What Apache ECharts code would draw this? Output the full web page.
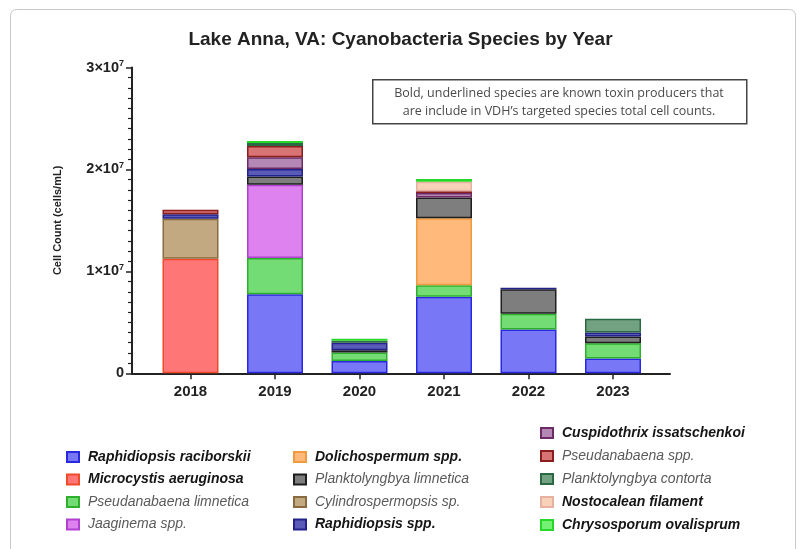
<!DOCTYPE html>
<html><head><meta charset="utf-8">
<script src="https://cdn.jsdelivr.net/npm/echarts@6/dist/echarts.min.js"></script>
<style>html,body{margin:0;padding:0;background:#fff}#c{width:801px;height:549px}</style>
</head><body><div id="c"></div>
<script>
const years = ['2018','2019','2020','2021','2022','2023'];
const yTicks = [0, 10000000, 20000000, 30000000];

const raphidiopsisRaciborskii = [0, 7750000, 1200000, 7500000, 4300000, 1450000];
const microcystisAeruginosa   = [11250000, 0, 0, 0, 0, 0];
const pseudanabaenaLimnetica  = [0, 3550000, 850000, 1150000, 1550000, 1500000];
const jaaginemaSpp            = [0, 7200000, 0, 0, 0, 0];
const dolichospermumSpp       = [0, 0, 0, 6550000, 0, 0];
const planktolyngbyaLimnetica = [0, 800000, 200000, 2050000, 2400000, 650000];
const cylindrospermopsisSp    = [3900000, 0, 0, 0, 0, 0];
const raphidiopsisSpp         = [450000, 750000, 750000, 0, 150000, 400000];
const cuspidothrixIssatschenkoi = [0, 1150000, 0, 450000, 0, 0];
const pseudanabaenaSpp        = [450000, 1100000, 0, 150000, 0, 0];
const planktolyngbyaContorta  = [0, 300000, 200000, 0, 0, 1350000];
const nostocaleanFilament     = [0, 0, 0, 950000, 0, 0];
const chrysosporumOvalisprum  = [0, 200000, 200000, 250000, 0, 0];

const speciesNames = [
  'Raphidiopsis raciborskii','Microcystis aeruginosa','Pseudanabaena limnetica','Jaaginema spp.',
  'Dolichospermum spp.','Planktolyngbya limnetica','Cylindrospermopsis sp.','Raphidiopsis spp.',
  'Cuspidothrix issatschenkoi','Pseudanabaena spp.','Planktolyngbya contorta','Nostocalean filament','Chrysosporum ovalisprum'];
const speciesValues = [raphidiopsisRaciborskii, microcystisAeruginosa, pseudanabaenaLimnetica, jaaginemaSpp,
  dolichospermumSpp, planktolyngbyaLimnetica, cylindrospermopsisSp, raphidiopsisSpp,
  cuspidothrixIssatschenkoi, pseudanabaenaSpp, planktolyngbyaContorta, nostocaleanFilament, chrysosporumOvalisprum];
const toxic = ['Raphidiopsis raciborskii','Microcystis aeruginosa','Dolichospermum spp.','Raphidiopsis spp.',
  'Cuspidothrix issatschenkoi','Nostocalean filament','Chrysosporum ovalisprum'];

const fills   = ['#7878f6','#ff7676','#74dc74','#de82f0','#ffb97a','#7e7e7e','#c2a981','#5a5ab8','#b488b4','#d87474','#72a282','#f8d2b8','#74f074'];
const borders = ['#2828e0','#f04a2a','#2eb02e','#b040d0','#f09a40','#1e1e1e','#8a6a40','#22228a','#6e2a66','#8a1e1e','#2a6a42','#e8b0a0','#28d828'];

const FONT = '"Liberation Sans", Arial, sans-serif';

const series = speciesNames.map((n, i) => ({
  name: n, type: 'bar', stack: 'total', xAxisIndex: 1, yAxisIndex: 1,
  barWidth: 56,
  itemStyle: { color: fills[i], borderColor: borders[i], borderWidth: 1.5 },
  data: speciesValues[i].map(v => v === 0 ? null : v)
}));

const legendText = {
  fontFamily: FONT, fontSize: 14,
  rich: {
    t: { fontFamily: FONT, fontSize: 14, fontWeight: 'bold', fontStyle: 'italic', color: '#151515', padding: [0,0,0,4] },
    n: { fontFamily: FONT, fontSize: 14, fontStyle: 'italic', color: '#5a5a5a', padding: [0,0,0,4] }
  }
};
function mkLegend(names, left, top, gap) {
  return {
    data: names, orient: 'vertical', left: left, top: top, itemGap: gap,
    itemWidth: 12, itemHeight: 10, selectedMode: false, icon: 'rect',
    formatter: n => toxic.includes(n) ? '{t|' + n + '}' : '{n|' + n + '}',
    textStyle: legendText
  };
}

const chart = echarts.init(document.getElementById('c'), null, { renderer: 'canvas' });
chart.setOption({
  backgroundColor: '#fff',
  animation: false,
  title: {
    text: 'Lake Anna, VA: Cyanobacteria Species by Year', left: 'center', top: 25,
    textStyle: { fontFamily: FONT, fontSize: 19, fontWeight: 'bold', color: '#222' }
  },
  legend: [
    mkLegend(speciesNames.slice(0, 4), 61, 445, 8.5),
    mkLegend(speciesNames.slice(4, 8), 288, 445, 8.5),
    mkLegend(speciesNames.slice(8, 13), 535, 421, 9)
  ],
  grid: [
    { left: 132, right: 131, top: 67.5, bottom: 175.7 },
    { left: 148.25, right: 145.75, top: 67.5, bottom: 175.7 }
  ],
  xAxis: [
    { type: 'value', gridIndex: 0, min: 0, max: 1, axisLine: { show: true, onZero: false, lineStyle: { color: '#222', width: 2 } },
      axisTick: { show: false }, axisLabel: { show: false }, splitLine: { show: false } },
    { type: 'category', gridIndex: 1, data: years, axisLine: { show: false },
      axisTick: { show: true, alignWithLabel: true, length: 6, lineStyle: { color: '#222', width: 1.5 } },
      axisLabel: { margin: 11, fontFamily: FONT, fontSize: 15, fontWeight: 'bold', color: '#222' } }
  ],
  yAxis: [
    { type: 'value', gridIndex: 0, min: yTicks[0], max: yTicks[yTicks.length - 1], interval: yTicks[1] - yTicks[0],
      name: 'Cell Count (cells/mL)', nameLocation: 'middle', nameGap: 69,
      nameTextStyle: { fontFamily: FONT, fontSize: 11, fontWeight: 'bold', color: '#222' },
      axisLine: { show: true, lineStyle: { color: '#222', width: 2 } },
      axisTick: { show: true, length: 6, lineStyle: { color: '#222', width: 1.5 } },
      minorTick: { show: true, splitNumber: 10, length: 4, lineStyle: { color: '#222', width: 1.2 } },
      splitLine: { show: false },
      axisLabel: {
        margin: 8,
        formatter: v => v === 0 ? '{b|0}' : '{b|' + (v / 1e7) + '×10}{s|7}',
        rich: {
          b: { fontFamily: FONT, fontSize: 14.5, fontWeight: 'bold', color: '#222' },
          s: { fontFamily: FONT, fontSize: 9, fontWeight: 'bold', color: '#222', verticalAlign: 'top', padding: [0, 0, 8, 0] }
        }
      } },
    { type: 'value', gridIndex: 1, min: yTicks[0], max: yTicks[yTicks.length - 1], show: false, splitLine: { show: false } }
  ],
  graphic: [
    { type: 'rect', left: 8, top: 7, shape: { width: 785, height: 560, r: 6 }, style: { fill: 'none', stroke: '#c8c8c8', lineWidth: 1 }, silent: true },
    { type: 'rect', left: 372, top: 79, shape: { width: 374, height: 44 }, style: { fill: '#fff', stroke: '#444', lineWidth: 1.5 }, silent: true },
    { type: 'text', x: 559, y: 84, style: { text: 'Bold, underlined species are known toxin producers that\nare include in VDH\u2019s targeted species total cell counts.',
        font: '12.5px "Open Sans", sans-serif', fill: '#4a4a4a', align: 'center', verticalAlign: 'top', lineHeight: 18 }, silent: true }
  ],
  series: series
});
</script></body></html>
